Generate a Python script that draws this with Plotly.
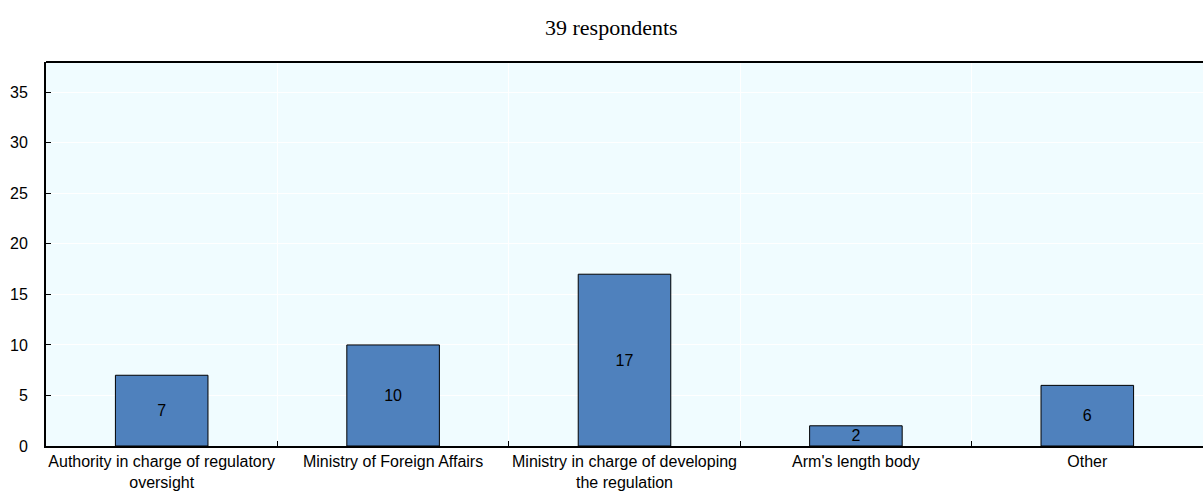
import plotly.graph_objects as go

categories = [
    "Authority in charge of regulatory<br>oversight",
    "Ministry of Foreign Affairs",
    "Ministry in charge of developing<br>the regulation",
    "Arm's length body",
    "Other",
]
counts = [7, 10, 17, 2, 6]
y_ticks = [0, 5, 10, 15, 20, 25, 30, 35]
title_text = "39 respondents"

SANS = "Liberation Sans, Arial, sans-serif"

fig = go.Figure(
    go.Bar(
        x=categories,
        y=counts,
        width=0.4,
        marker=dict(color="#4F81BD", line=dict(color="#000000", width=1)),
        text=[str(v) for v in counts],
        textposition="inside",
        insidetextanchor="middle",
        textangle=0,
        textfont=dict(family=SANS, size=16, color="#000000"),
        cliponaxis=False,
    )
)

fig.update_layout(
    width=1203,
    height=495,
    margin=dict(l=46, r=0, t=62, b=49),
    paper_bgcolor="#FFFFFF",
    plot_bgcolor="#F0FCFF",
    showlegend=False,
    font=dict(family=SANS, size=16, color="#000000"),
    uniformtext=dict(minsize=16, mode="show"),
)

fig.update_xaxes(
    type="category",
    tickson="boundaries",
    ticks="inside",
    ticklen=5,
    tickcolor="#000000",
    tickangle=0,
    automargin=False,
    showgrid=True,
    gridcolor="#FFFFFF",
    gridwidth=1,
    showline=True,
    linecolor="#000000",
    linewidth=2,
    tickfont=dict(family=SANS, size=16, color="#000000"),
    fixedrange=True,
)

fig.update_yaxes(
    range=[0, 38],
    tickvals=y_ticks,
    ticks="inside",
    ticklen=5,
    tickcolor="#000000",
    automargin=False,
    showgrid=True,
    gridcolor="#FFFFFF",
    gridwidth=1,
    zeroline=False,
    showline=True,
    linecolor="#000000",
    linewidth=2,
    ticklabelstandoff=13,
    tickfont=dict(family=SANS, size=16, color="#000000"),
    fixedrange=True,
)

# top frame line of the plot area
fig.add_shape(
    type="line", xref="paper", yref="paper",
    x0=0, x1=1, y0=1, y1=1,
    line=dict(color="#000000", width=2),
)

fig.add_annotation(
    text=title_text,
    xref="paper", yref="paper",
    x=0.489, y=1, yshift=35,
    xanchor="center", yanchor="middle",
    showarrow=False,
    font=dict(family="Liberation Serif, Times New Roman, serif", size=22, color="#000000"),
)

fig.write_html("out.html")
